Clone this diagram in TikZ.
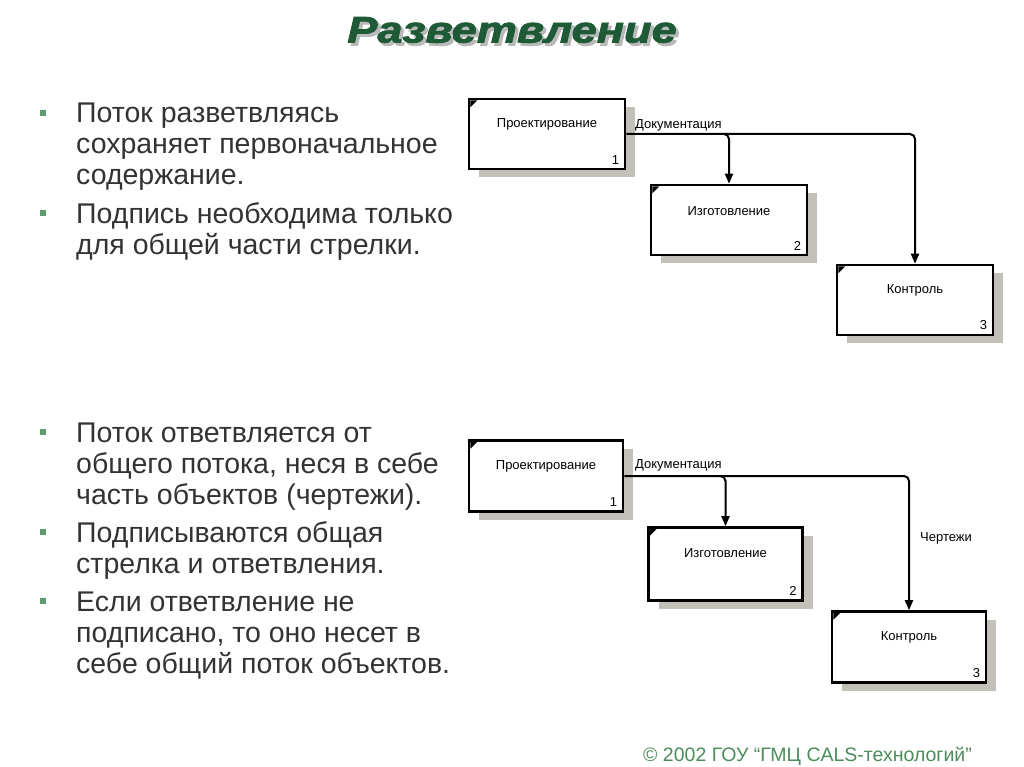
\documentclass[tikz,border=0pt]{standalone}
\usepackage{fontspec}
\setmainfont{Liberation Sans}
\newfontfamily\titlefont{Liberation Sans}[BoldItalicFeatures={FakeBold=2}]
\usetikzlibrary{calc,shadows,arrows.meta}
\definecolor{titlegreen}{HTML}{1E5A36}
\definecolor{bulletgreen}{HTML}{5E9B6E}
\definecolor{bodygray}{HTML}{333333}
\definecolor{footgreen}{HTML}{4C8C5C}
\definecolor{shadowgray}{HTML}{C2C0B8}
\begin{document}
\begin{tikzpicture}[x=1pt,y=-1pt,
  bodytext/.style={anchor=base west,inner sep=0,text=bodygray,font=\fontsize{28.5}{31}\selectfont},
  bul/.style={fill=bulletgreen,minimum size=6.5pt,inner sep=0},
  fbox/.style={draw,line width=2.6pt,fill=white,inner sep=0,
    drop shadow={shadow xshift=10pt,shadow yshift=-8pt,fill=shadowgray,opacity=1}},
  boxtext/.style={font=\fontsize{13}{15}\selectfont,inner sep=0},
  flow/.style={line width=2pt,rounded corners=5pt,-{Triangle[length=10pt,width=8pt]}},
  flowlabel/.style={font=\fontsize{13}{15}\selectfont,inner sep=0},
  titletext/.style={font=\titlefont\fontsize{37}{40}\bfseries\itshape\selectfont}]
\useasboundingbox (0,0) rectangle (1024,767);
\fill[white] (0,0) rectangle (1024,767);

% title
\node[titletext,text=gray!55] (tsh) at (515,33) {\scalebox{1.22}[1]{Разветвление}};
\node[titletext,text=titlegreen] (title) at (512,30) {\scalebox{1.22}[1]{Разветвление}};

% upper bullets
\node[bul] (ba) at (43,113) {};
\node[bodytext] (a1) at (76,123) {Поток разветвляясь};
\node[bodytext] (a2) at (76,154) {сохраняет первоначальное};
\node[bodytext] (a3) at (76,185) {содержание.};
\node[bul] (bb) at (43,213) {};
\node[bodytext] (a4) at (76,223) {Подпись необходима только};
\node[bodytext] (a5) at (76,254) {для общей части стрелки.};

% lower bullets
\node[bul] (bc) at (43,432) {};
\node[bodytext] (c1) at (76,442) {Поток ответвляется от};
\node[bodytext] (c2) at (76,473) {общего потока, неся в себе};
\node[bodytext] (c3) at (76,504) {часть объектов (чертежи).};
\node[bul] (bd) at (43,532) {};
\node[bodytext] (c4) at (76,542) {Подписываются общая};
\node[bodytext] (c5) at (76,573) {стрелка и ответвления.};
\node[bul] (be) at (43,601) {};
\node[bodytext] (c6) at (76,611) {Если ответвление не};
\node[bodytext] (c7) at (76,642) {подписано, то оно несет в};
\node[bodytext] (c8) at (76,673) {себе общий поток объектов.};

% upper diagram
\node[fbox,minimum width=156pt,minimum height=70pt] (p1) at (547,134) {};
\node[fbox,minimum width=156pt,minimum height=70pt] (p2) at (729,220) {};
\node[fbox,minimum width=156pt,minimum height=70pt] (p3) at (915,300) {};
\foreach \b/\t/\n in {p1/Проектирование/1,p2/Изготовление/2,p3/Контроль/3}{
  \fill ($(\b.north west)+(2.6,2.6)$) -- ++(7,0) -- ++(-7,7) -- cycle;
  \node[boxtext] (\b t) at ($(\b.north)+(0,27)$) {\t};
  \node[boxtext,anchor=south east] (\b n) at ($(\b.south east)+(-7,-6)$) {\n};
}
\node[flowlabel,anchor=base west] (l1) at (635,129) {Документация};
\draw[flow] (p1.east) -| (p3.north);
\coordinate (j1) at ($(p2.north |- p1.east)+(-6,0)$);
\draw[flow] (j1) -| (p2.north);

% lower diagram
\node[fbox,minimum width=154pt,minimum height=71pt] (q1) at (546,476) {};
\node[fbox,minimum width=154pt,minimum height=73pt] (q2) at (725.5,564) {};
\node[fbox,minimum width=154pt,minimum height=71pt] (q3) at (909,647) {};
\foreach \b/\t/\n in {q1/Проектирование/1,q2/Изготовление/2,q3/Контроль/3}{
  \fill ($(\b.north west)+(2.6,2.6)$) -- ++(7,0) -- ++(-7,7) -- cycle;
  \node[boxtext] (\b t) at ($(\b.north)+(0,27)$) {\t};
  \node[boxtext,anchor=south east] (\b n) at ($(\b.south east)+(-7,-6)$) {\n};
}
\node[flowlabel,anchor=base west] (l2) at (635,468) {Документация};
\node[flowlabel,anchor=base west] (l3) at (920,541) {Чертежи};
\draw[flow] (q1.east) -| (q3.north);
\coordinate (j2) at ($(q2.north |- q1.east)+(-6,0)$);
\draw[flow] (j2) -| (q2.north);

% footer
\node[anchor=base west,inner sep=0,text=footgreen,font=\fontsize{19.5}{22}\selectfont] (foot) at (643,761) {© 2002 ГОУ “ГМЦ CALS-технологий”};
\end{tikzpicture}
\end{document}
